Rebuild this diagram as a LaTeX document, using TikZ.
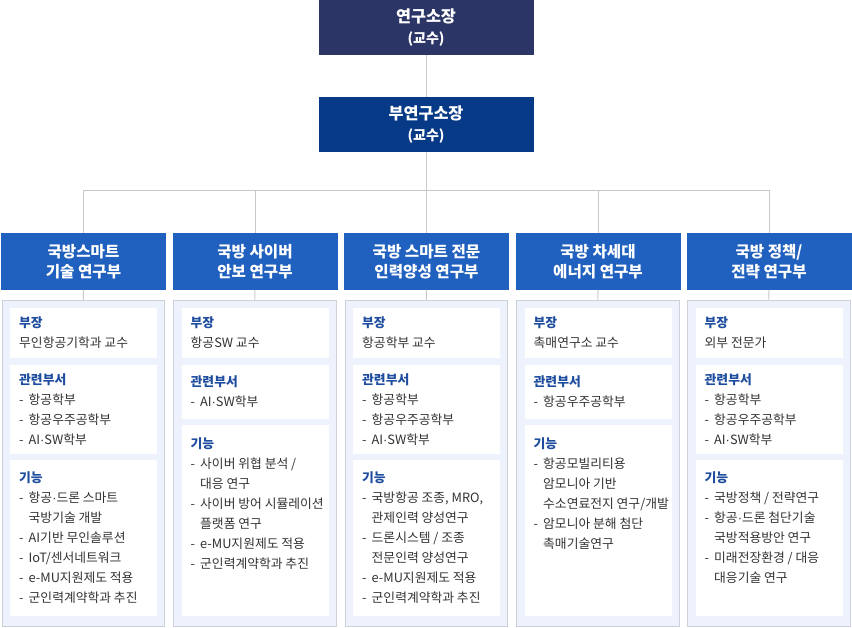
\documentclass[tikz,border=0pt]{standalone}
\usepackage{fontspec}
\setmainfont{Noto Sans CJK KR}
\newfontfamily\latinfont{Liberation Sans}
\definecolor{navy}{HTML}{2B3566}
\definecolor{dblue}{HTML}{063A87}
\definecolor{hblue}{HTML}{2060BE}
\definecolor{pfill}{HTML}{EDF2FC}
\definecolor{pborder}{HTML}{CCD0D8}
\definecolor{conn}{HTML}{C8C8C8}
\definecolor{lblue}{HTML}{1E4C9E}
\definecolor{bodygray}{HTML}{333333}
\newcommand\rowdash{\makebox[9.5pt][l]{-}}
\newcommand\rowind{\hspace*{9.5pt}}
\newcommand\mdot{{\latinfont ·}}
\newcommand\lbl[1]{\textcolor{lblue}{\bfseries #1}}
\tikzset{
  topbox/.style={rectangle, fill=#1, text=white, minimum width=215, minimum height=55, inner sep=0, align=center, font=\bfseries\fontsize{16.3}{21}\selectfont},
  hdr/.style={rectangle, fill=hblue, text=white, minimum width=165, minimum height=56.7, inner sep=0, align=center, font=\bfseries\fontsize{15.6}{20}\selectfont},
  pnl/.style={rectangle, draw=pborder, fill=pfill, line width=1pt, minimum width=162.5, minimum height=326, inner sep=0, anchor=north west},
  wb/.style={rectangle, fill=white, minimum width=147, minimum height=#1, inner sep=0, anchor=north west},
  txt/.style={anchor=base west, inner sep=0, text=bodygray, font=\fontsize{12.8}{20}\selectfont},
  conline/.style={draw=conn, line width=1pt}
}
\begin{document}
\begin{tikzpicture}[x=1pt,y=-1pt]
\useasboundingbox (0,0) rectangle (852,627);
% top boxes
\node[topbox=navy] (dir) at (426,27.5) {연구소장\\{\fontsize{14}{21}\selectfont (교수)}};
\node[topbox=dblue] (vdir) at (426,124.5) {부연구소장\\{\fontsize{14}{21}\selectfont (교수)}};
\coordinate (bar) at (426,190.3);
% headers
\node[hdr] (h1) at (83.5,261.3) {국방스마트\\기술 연구부};
\node[hdr] (h2) at (255,261.3) {국방 사이버\\안보 연구부};
\node[hdr] (h3) at (426.5,261.3) {국방 스마트 전문\\인력양성 연구부};
\node[hdr] (h4) at (598,261.3) {국방 차세대\\에너지 연구부};
\node[hdr] (h5) at (769,261.3) {국방 정책/\\전략 연구부};
% panels
\node[pnl] (p1) at (1.7,299.5) {};
\node[pnl] (p2) at (173.2,299.5) {};
\node[pnl] (p3) at (344.7,299.5) {};
\node[pnl] (p4) at (516.2,299.5) {};
\node[pnl] (p5) at (687.2,299.5) {};
% connectors
\draw[conline] (dir.south) -- (vdir.north);
\draw[conline] (vdir.south) -- (bar);
\foreach \h in {h1,h2,h3,h4,h5} {
  \draw[conline] (bar) -| (\h.north);
}
\foreach \i in {1,...,5} {
  \draw[conline] (h\i.south) -- (p\i.north);
}
% ---------- column 1
\node[wb=50] (w11) at (10,308) {};
\node[wb=89.5] (w12) at (10,364.5) {};
\node[wb=155.5] (w13) at (10,460) {};
\node[txt] (t11) at (19,327.5) {\begin{tabular}[t]{@{}l@{}}\lbl{부장}\\ 무인항공기학과 교수\end{tabular}};
\node[txt] (t12) at (19,384) {\begin{tabular}[t]{@{}l@{}}\lbl{관련부서}\\ \rowdash 항공학부\\ \rowdash 항공우주공학부\\ \rowdash AI\mdot SW학부\end{tabular}};
\node[txt] (t13) at (19,482.5) {\begin{tabular}[t]{@{}l@{}}\lbl{기능}\\ \rowdash 항공\mdot 드론 스마트\\ \rowind 국방기술 개발\\ \rowdash AI기반 무인솔루션\\ \rowdash IoT/센서네트워크\\ \rowdash e-MU지원제도 적용\\ \rowdash 군인력계약학과 추진\end{tabular}};
% ---------- column 2
\node[wb=50] (w21) at (181.5,308) {};
\node[wb=54.5] (w22) at (181.5,364.5) {};
\node[wb=190.5] (w23) at (181.5,425) {};
\node[txt] (t21) at (190.5,327.5) {\begin{tabular}[t]{@{}l@{}}\lbl{부장}\\ 항공SW 교수\end{tabular}};
\node[txt] (t22) at (190.5,386) {\begin{tabular}[t]{@{}l@{}}\lbl{관련부서}\\ \rowdash AI\mdot SW학부\end{tabular}};
\node[txt] (t23) at (190.5,448.5) {\begin{tabular}[t]{@{}l@{}}\lbl{기능}\\ \rowdash 사이버 위협 분석 /\\ \rowind 대응 연구\\ \rowdash 사이버 방어 시뮬레이션\\ \rowind 플랫폼 연구\\ \rowdash e-MU지원제도 적용\\ \rowdash 군인력계약학과 추진\end{tabular}};
% ---------- column 3
\node[wb=50] (w31) at (353,308) {};
\node[wb=89.5] (w32) at (353,364.5) {};
\node[wb=155.5] (w33) at (353,460) {};
\node[txt] (t31) at (362,327.5) {\begin{tabular}[t]{@{}l@{}}\lbl{부장}\\ 항공학부 교수\end{tabular}};
\node[txt] (t32) at (362,384) {\begin{tabular}[t]{@{}l@{}}\lbl{관련부서}\\ \rowdash 항공학부\\ \rowdash 항공우주공학부\\ \rowdash AI\mdot SW학부\end{tabular}};
\node[txt] (t33) at (362,482.5) {\begin{tabular}[t]{@{}l@{}}\lbl{기능}\\ \rowdash 국방항공 조종, MRO,\\ \rowind 관제인력 양성연구\\ \rowdash 드론시스템 / 조종\\ \rowind 전문인력 양성연구\\ \rowdash e-MU지원제도 적용\\ \rowdash 군인력계약학과 추진\end{tabular}};
% ---------- column 4
\node[wb=50] (w41) at (524.5,308) {};
\node[wb=54.5] (w42) at (524.5,364.5) {};
\node[wb=190.5] (w43) at (524.5,425) {};
\node[txt] (t41) at (533.5,327.5) {\begin{tabular}[t]{@{}l@{}}\lbl{부장}\\ 촉매연구소 교수\end{tabular}};
\node[txt] (t42) at (533.5,386) {\begin{tabular}[t]{@{}l@{}}\lbl{관련부서}\\ \rowdash 항공우주공학부\end{tabular}};
\node[txt] (t43) at (533.5,448.5) {\begin{tabular}[t]{@{}l@{}}\lbl{기능}\\ \rowdash 항공모빌리티용\\ \rowind 암모니아 기반\\ \rowind 수소연료전지 연구/개발\\ \rowdash 암모니아 분해 첨단\\ \rowind 촉매기술연구\end{tabular}};
% ---------- column 5
\node[wb=50] (w51) at (695.5,308) {};
\node[wb=89.5] (w52) at (695.5,364.5) {};
\node[wb=155.5] (w53) at (695.5,460) {};
\node[txt] (t51) at (704.5,327.5) {\begin{tabular}[t]{@{}l@{}}\lbl{부장}\\ 외부 전문가\end{tabular}};
\node[txt] (t52) at (704.5,384) {\begin{tabular}[t]{@{}l@{}}\lbl{관련부서}\\ \rowdash 항공학부\\ \rowdash 항공우주공학부\\ \rowdash AI\mdot SW학부\end{tabular}};
\node[txt] (t53) at (704.5,482.5) {\begin{tabular}[t]{@{}l@{}}\lbl{기능}\\ \rowdash 국방정책 / 전략연구\\ \rowdash 항공\mdot 드론 첨단기술\\ \rowind 국방적용방안 연구\\ \rowdash 미래전장환경 / 대응\\ \rowind 대응기술 연구\end{tabular}};
\end{tikzpicture}
\end{document}
